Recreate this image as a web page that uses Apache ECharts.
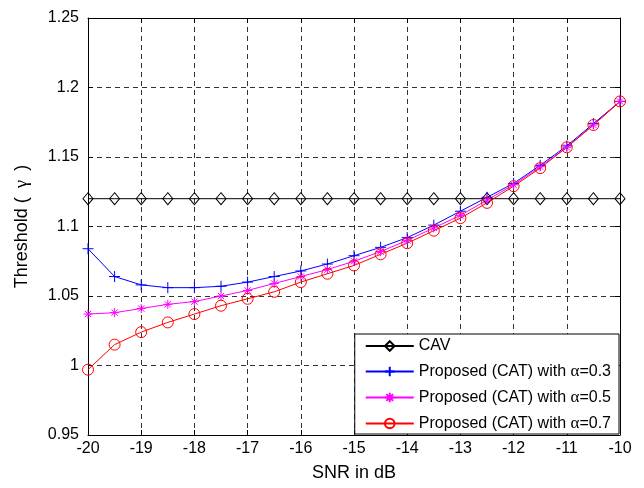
<!DOCTYPE html>
<html>
<head>
<meta charset="utf-8">
<script src="https://cdn.jsdelivr.net/npm/echarts@6/dist/echarts.min.js"></script>
<style>html,body{margin:0;padding:0;background:#fff}#c{width:644px;height:488px}</style>
</head>
<body>
<div id="c"></div>
<script>
var snr = [-20,-19.5,-19,-18.5,-18,-17.5,-17,-16.5,-16,-15.5,-15,-14.5,-14,-13.5,-13,-12.5,-12,-11.5,-11,-10.5,-10];
var cav = [1.12,1.12,1.12,1.12,1.12,1.12,1.12,1.12,1.12,1.12,1.12,1.12,1.12,1.12,1.12,1.12,1.12,1.12,1.12,1.12,1.12];
var cat03 = [1.084,1.064,1.058,1.056,1.056,1.057,1.060,1.064,1.068,1.073,1.079,1.085,1.092,1.101,1.111,1.121,1.131,1.144,1.158,1.174,1.190];
var cat05 = [1.037,1.038,1.041,1.044,1.046,1.050,1.054,1.059,1.064,1.069,1.075,1.082,1.090,1.099,1.108,1.119,1.130,1.143,1.157,1.173,1.190];
var cat07 = [0.997,1.015,1.024,1.031,1.037,1.043,1.048,1.053,1.060,1.066,1.072,1.080,1.088,1.097,1.106,1.117,1.129,1.142,1.157,1.173,1.190];
var names = ['CAV','Proposed (CAT) with α=0.3','Proposed (CAT) with α=0.5','Proposed (CAT) with α=0.7'];
var colors = ['#000000','#0000ff','#ff00ff','#ff0000'];
var xTitle = 'SNR in dB';
var yTitle = ['Threshold (', 'γ', ')'];
var xTicks = {min:-20, max:-10, interval:1};
var yTicks = {min:0.95, max:1.25, interval:0.05};

function pairs(ys){ return snr.map(function(x,i){ return [x, ys[i]]; }); }
var FONT = "'Liberation Sans', Arial, Helvetica, sans-serif";
var SERIF = "'Liberation Serif', 'DejaVu Serif', serif";
var plus = 'path://M0,5L10,5M5,0L5,10';
var star = 'path://M0,5L10,5M5,0L5,10M1.5,1.5L8.5,8.5M8.5,1.5L1.5,8.5';

function mk(name, ys, color, symbol, size){
  return {
    name: name, type:'line', data: pairs(ys), color: color,
    symbol: symbol, symbolSize: size, showAllSymbol: true,
    lineStyle:{color: color, width:1},
    itemStyle:{color:'rgba(0,0,0,0)', borderColor: color, borderWidth:1},
    emphasis:{disabled:true}, animation:false, z:3
  };
}

var chart = echarts.init(document.getElementById('c'), null, {renderer:'canvas'});
var gridLine = {show:true, lineStyle:{color:'#333', type:[5,4], width:1}};
chart.setOption({
  animation:false,
  backgroundColor:'#fff',
  grid:{left:88, right:24, top:18, bottom:53, containLabel:false},
  legend:{
    orient:'vertical', right:25, bottom:54,
    backgroundColor:'#fff', borderColor:'#000', borderWidth:1,
    padding:[4,8,2,10], itemWidth:48, itemHeight:12, itemGap:9,
    data: names,
    formatter: function(n){
      var i = n.indexOf('α');
      if(i<0) return '{a|'+n+'}';
      return '{a|'+n.slice(0,i)+'}{g|α}{a|'+n.slice(i+1)+'}';
    },
    textStyle:{rich:{
      a:{fontFamily:FONT, fontSize:16, color:'#000'},
      g:{fontFamily:SERIF, fontSize:17, color:'#000'}
    }}
  },
  xAxis:[{
    type:'value', min:xTicks.min, max:xTicks.max, interval:xTicks.interval,
    name:xTitle, nameLocation:'middle', nameGap:29,
    nameTextStyle:{fontFamily:FONT, fontSize:18, color:'#000'},
    axisLine:{show:true, onZero:false, lineStyle:{color:'#000', width:1}},
    axisTick:{show:true, inside:true, length:5, lineStyle:{color:'#000'}},
    axisLabel:{fontFamily:FONT, fontSize:16, color:'#000', margin:6},
    splitLine:gridLine
  },{
    type:'value', position:'top', min:xTicks.min, max:xTicks.max, interval:xTicks.interval,
    axisLine:{show:true, onZero:false, lineStyle:{color:'#000', width:1}},
    axisTick:{show:true, inside:true, length:5, lineStyle:{color:'#000'}},
    axisLabel:{show:false}, splitLine:{show:false}
  }],
  yAxis:[{
    type:'value', min:yTicks.min, max:yTicks.max, interval:yTicks.interval,
    name:'{a|'+yTitle[0]+'}{g|'+yTitle[1]+'}{a|'+yTitle[2]+'}', nameLocation:'middle', nameGap:56,
    nameTextStyle:{color:'#000', rich:{
      a:{fontFamily:FONT, fontSize:18, color:'#000'},
      g:{fontFamily:SERIF, fontSize:19, color:'#000', padding:[0,9,0,9]}
    }},
    axisLine:{show:true, onZero:false, lineStyle:{color:'#000', width:1}},
    axisTick:{show:true, inside:true, length:5, lineStyle:{color:'#000'}},
    axisLabel:{fontFamily:FONT, fontSize:16, color:'#000', margin:9,
      formatter:function(v){ return String(+v.toFixed(2)); }},
    splitLine:gridLine
  },{
    type:'value', position:'right', min:yTicks.min, max:yTicks.max, interval:yTicks.interval,
    axisLine:{show:true, onZero:false, lineStyle:{color:'#000', width:1}},
    axisTick:{show:true, inside:true, length:5, lineStyle:{color:'#000'}},
    axisLabel:{show:false}, splitLine:{show:false}
  }],
  series:[
    mk(names[0], cav, colors[0], 'diamond', [10,12]),
    mk(names[1], cat03, colors[1], plus, 11),
    mk(names[2], cat05, colors[2], star, 9),
    mk(names[3], cat07, colors[3], 'circle', 11)
  ]
});
</script>
</body>
</html>
